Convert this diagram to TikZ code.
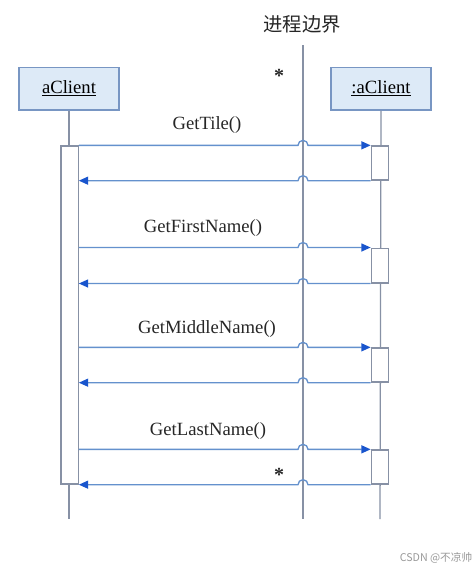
\documentclass[tikz,border=0pt]{standalone}
\usepackage{fontspec}
\setmainfont{Liberation Serif}
\newfontfamily\cjk{Noto Sans CJK SC}
\usetikzlibrary{arrows.meta}

\definecolor{objfill}{RGB}{221,234,247}
\definecolor{objline}{RGB}{120,150,195}
\definecolor{lifegray}{RGB}{135,145,165}
\definecolor{msgline}{RGB}{100,145,205}
\definecolor{tipblue}{RGB}{25,85,205}

\tikzset{every picture/.style={line width=0.75pt},
  objbox/.style={draw=objline, fill=objfill, line width=1pt, inner sep=0pt, minimum width=75pt, minimum height=32pt, font=\fontsize{14}{16}\selectfont},
  actbar/.style={draw=lifegray, fill=white, line width=1pt, inner sep=0pt, minimum width=13pt},
  lifeline/.style={draw=lifegray, line width=1pt},
  msg/.style={draw=msgline, line width=1pt, -{Triangle[length=7pt,width=6pt,color=tipblue]}},
  msglabel/.style={text=black!85, font=\fontsize{14}{16}\selectfont},
  starmark/.style={text=black!85, font=\bfseries\fontsize{15}{16}\selectfont, inner sep=0pt},
}

\begin{document}
\begin{tikzpicture}[x=0.75pt,y=0.75pt,yscale=-1,xscale=1]
\useasboundingbox[fill=white] (0,0) rectangle (472,572);

%Object boxes
\node[objbox] (cli) at (69,88.5) {\underline{aClient}};
\node[objbox] (srv) at (381,88.5) {\underline{:aClient}};

%Lifeline ends and process boundary
\coordinate (cliend) at (69,519);
\coordinate (srvend) at (380,519);
\coordinate (btop) at (303,45);
\coordinate (bbot) at (303,519);

\draw[lifeline] (cli.south) -- (cliend);
\draw[lifeline] (srv.south |- srv.south) -- (srvend);
\draw[lifeline] (btop) -- (bbot);

%Activation bars
\node[actbar, minimum height=253.5pt] (bar) at (69.5,315) {};
\node[actbar, minimum height=25.5pt] (act1) at (380,163) {};
\node[actbar, minimum height=26pt] (act2) at (380,265.5) {};
\node[actbar, minimum height=25.5pt] (act3) at (380,365) {};
\node[actbar, minimum height=25.5pt] (act4) at (380,467) {};

%Messages (call and return, each jumping the boundary)
\foreach \a in {act1,act2,act3,act4}{
  \draw[msg] (bar.east |- \a.north west) -- ([xshift=-3.75pt]btop |- \a.north west) arc[start angle=180,end angle=360,radius=5] -- (\a.north west);
  \draw[msg] (\a.south west) -- ([xshift=3.75pt]btop |- \a.south west) arc[start angle=0,end angle=-180,radius=5] -- (bar.east |- \a.south west);
}

% Text Node
\node[msglabel] (bound) at (302,24) {\cjk\fontsize{14.5}{16}\selectfont 进程边界};
% Text Node
\node[msglabel] (m1) at (207,125) {GetTile()};
% Text Node
\node[msglabel] (m2) at (203,228) {GetFirstName()};
% Text Node
\node[msglabel] (m3) at (207,329) {GetMiddleName()};
% Text Node
\node[msglabel] (m4) at (208,431) {GetLastName()};
% Text Node
\node[starmark] (star1) at (279,76) {*};
% Text Node
\node[starmark] (star2) at (279,475) {*};
% Text Node
\node[text=black!40, font=\cjk\fontsize{8}{10}\selectfont] (mark) at (436,558) {CSDN @不凉帅};

\end{tikzpicture}
\end{document}
